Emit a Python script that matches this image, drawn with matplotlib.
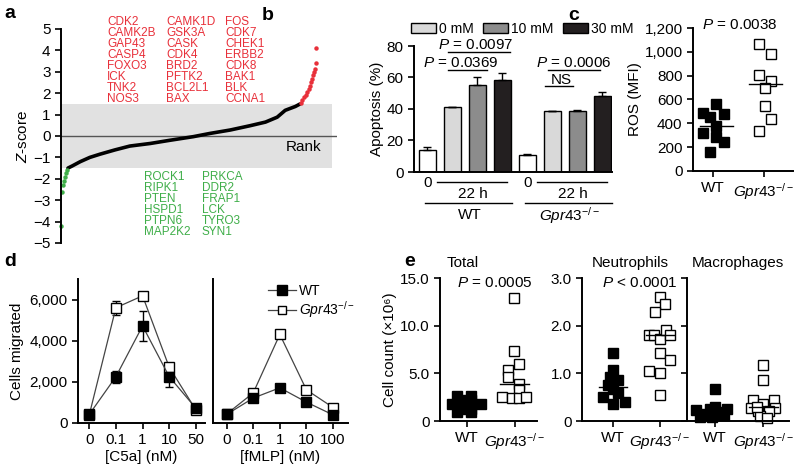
import matplotlib.pyplot as plt
from matplotlib.patches import Patch
from matplotlib.lines import Line2D
import numpy as np

plt.rcParams['font.family'] = ['Liberation Sans', 'DejaVu Sans']
plt.rcParams['mathtext.fontset'] = 'custom'
plt.rcParams['mathtext.rm'] = 'Liberation Sans'
plt.rcParams['mathtext.it'] = 'Liberation Sans:italic'
plt.rcParams['font.size'] = 9
plt.rcParams['axes.linewidth'] = 1.4
plt.rcParams['xtick.major.width'] = 1.2
plt.rcParams['ytick.major.width'] = 1.2
plt.rcParams['xtick.major.size'] = 4
plt.rcParams['ytick.major.size'] = 4

# ---- a: ranked Z-scores
rank_green = [0, 1, 3, 5, 7, 9, 12]
z_green = [-4.2, -2.6, -2.3, -2.1, -1.9, -1.75, -1.6]
rank_black = [13, 21, 36, 54, 73, 101, 129, 167, 204, 248, 279, 317, 354, 383, 405, 420, 439, 448]
z_black = [-1.5, -1.4, -1.2, -1.0, -0.85, -0.65, -0.47, -0.35, -0.2, -0.03, 0.12, 0.28, 0.48, 0.65, 0.88, 1.2, 1.38, 1.5]
rank_red = [449, 452, 455, 458, 461, 464, 466, 468, 470, 472, 473, 475, 477, 478]
z_red = [1.55, 1.68, 1.8, 1.93, 2.06, 2.2, 2.35, 2.5, 2.65, 2.85, 3.0, 3.15, 3.4, 4.1]

red_genes = [['CDK2', 'CAMK2B', 'GAP43', 'CASP4', 'FOXO3', 'ICK', 'TNK2', 'NOS3'],
             ['CAMK1D', 'GSK3A', 'CASK', 'CDK4', 'BRD2', 'PFTK2', 'BCL2L1', 'BAX'],
             ['FOS', 'CDK7', 'CHEK1', 'ERBB2', 'CDK8', 'BAK1', 'BLK', 'CCNA1']]
green_genes = [['ROCK1', 'RIPK1', 'PTEN', 'HSPD1', 'PTPN6', 'MAP2K2'],
               ['PRKCA', 'DDR2', 'FRAP1', 'LCK', 'TYRO3', 'SYN1']]

# ---- b: apoptosis
apop_wt = [14, 41.5, 55.2, 58.2]
apop_wt_err = [1.9, 0, 4.9, 4.4]
apop_ko = [10.6, 38.7, 38.7, 48.5]
apop_ko_err = [0.6, 0, 0.5, 2.5]
conc_labels = ['0 mM', '10 mM', '30 mM']

# ---- c: ROS
ros_wt = [489, 450, 562, 476, 316, 378, 288, 246, 162]
ros_wt_dx = [-0.19, -0.05, 0.07, 0.22, -0.19, 0.07, 0.07, 0.22, -0.06]
ros_ko = [1063, 979, 805, 755, 699, 545, 436, 336]
ros_ko_dx = [-0.1, 0.14, -0.1, 0.14, 0.03, 0.03, 0.14, -0.1]

# ---- d: migration
c5a_ticks = ['0', '0.1', '1', '10', '50']
c5a_wt = [400, 2240, 4715, 2240, 700]
c5a_wt_err = [0, 300, 730, 500, 80]
c5a_ko = [370, 5600, 6180, 2700, 620]
c5a_ko_err = [0, 350, 100, 150, 80]
fmlp_ticks = ['0', '0.1', '1', '10', '100']
fmlp_wt = [400, 1200, 1700, 1000, 380]
fmlp_ko = [420, 1450, 4300, 1600, 740]

# ---- e: peritoneal cell counts
tot_wt = [2.6, 2.6, 1.75, 1.75, 1.75, 1.75, 0.9, 0.9, 2.2, 2.2, 1.3, 1.3, 1.75]
tot_wt_dx = [-0.21, 0.09, -0.32, -0.11, 0.09, 0.29, -0.21, 0.09, -0.11, 0.09, -0.11, 0.09, -0.21]
tot_ko = [12.9, 7.3, 6.0, 5.3, 4.6, 3.9, 3.3, 2.5, 2.4, 2.45, 2.5]
tot_ko_dx = [-0.01, -0.01, 0.09, -0.14, -0.14, 0.09, 0.09, -0.26, -0.05, 0.09, 0.24]
neu_wt = [1.42, 1.07, 0.92, 0.86, 0.75, 0.68, 0.51, 0.58, 0.35, 0.4]
neu_wt_dx = [0, 0, -0.07, 0.11, -0.11, 0, -0.21, 0.11, 0, 0.25]
neu_ko = [2.6, 2.46, 2.29, 1.81, 1.81, 1.72, 1.9, 1.8, 1.42, 1.27, 1.04, 1.0, 0.54]
neu_ko_dx = [0, 0.12, -0.11, -0.23, -0.12, 0, 0.13, 0.21, 0, 0.21, -0.23, 0, 0]
mac_wt = [0.68, 0.23, 0.15, 0.25, 0.3, 0.19, 0.25, 0.08, 0.08, 0.12, 0.15, 0.12]
mac_wt_dx = [0, -0.39, -0.25, -0.11, 0, 0.11, 0.25, -0.32, -0.07, 0.18, 0.04, -0.18]
mac_ko = [1.17, 0.85, 0.45, 0.45, 0.35, 0.28, 0.28, 0.22, 0.22, 0.1, 0.07, 0.3]
mac_ko_dx = [0, 0, -0.21, 0.21, 0, -0.25, 0.25, -0.11, 0.11, -0.07, 0.07, -0.14]

KO = r'$\mathit{Gpr43}^{-/-}$'
W, H = 800, 469
RED = '#e8303a'
GREEN = '#3fae49'


def box(l, t, r, b):
    return [l / W, 1 - b / H, (r - l) / W, (b - t) / H]


def ftext(x, y, s, **kw):
    kw.setdefault('ha', 'center')
    kw.setdefault('va', 'center')
    fig.text(x / W, 1 - y / H, s, **kw)


def clean(ax, left=True, bottom=True):
    for side in ['top', 'right']:
        ax.spines[side].set_visible(False)
    ax.spines['left'].set_visible(left)
    ax.spines['bottom'].set_visible(bottom)


fig = plt.figure(figsize=(8, 4.69), dpi=100)

# panel a
axa = fig.add_axes(box(61, 29, 337, 243))
clean(axa, bottom=False)
axa.fill_between([0, 508], -1.5, 1.5, color='#e1e1e1', lw=0)
axa.axhline(0, color='#555555', lw=1)
axa.plot(rank_black, z_black, color='black', lw=2.6, solid_capstyle='round')
axa.plot(rank_green, z_green, 'o', color=GREEN, ms=2.2, clip_on=False)
axa.plot(rank_red, z_red, 'o', color=RED, ms=2.2, clip_on=False)
axa.set_xlim(0, 517)
axa.set_ylim(-5, 5)
axa.set_yticks(range(-5, 6))
axa.set_yticklabels(['\u2212%d' % -v if v < 0 else str(v) for v in range(-5, 6)], fontsize=11)
axa.set_xticks([])
axa.set_ylabel(r'$\mathit{Z}$-score', fontsize=11, labelpad=2)
axa.text(0.88, 0.45, 'Rank', transform=axa.transAxes, ha='center', va='center', fontsize=11)
for col, x0 in zip(red_genes, [107, 166, 225]):
    for i, g in enumerate(col):
        ftext(x0, 22 + 11 * i, g, ha='left', color=RED, fontsize=8.5)
for col, x0 in zip(green_genes, [144, 202]):
    for i, g in enumerate(col):
        ftext(x0, 177 + 11 * i, g, ha='left', color=GREEN, fontsize=8.5)

# panel b
axb = fig.add_axes(box(414, 46, 612, 172))
clean(axb)
bar_colors = ['white', '#d9d9d9', '#8c8c8c', '#231f20']
vals = apop_wt + apop_ko
errs = apop_wt_err + apop_ko_err
xs = np.arange(len(vals))
axb.bar(xs, vals, width=0.68, color=bar_colors * 2, edgecolor='black', lw=1)
axb.errorbar(xs, vals, yerr=[np.zeros(len(errs)), errs], fmt='none', ecolor='black',
             elinewidth=1, capsize=3, capthick=1)
axb.set_xlim(-0.54, 7.38)
axb.set_ylim(0, 80)
axb.set_yticks([0, 20, 40, 60, 80])
axb.set_xticks([])
axb.tick_params(labelsize=11)
axb.set_ylabel('Apoptosis (%)', fontsize=11, labelpad=2)
kw = dict(color='black', lw=1, clip_on=False)
tk = dict(ha='center', va='center', fontsize=11, clip_on=False)
for g0, lab in [(0, 'WT'), (4, KO)]:
    axb.text(g0, -7, '0', **tk)
    axb.plot([g0 + 0.38, g0 + 3.18], [-6.6, -6.6], **kw)
    axb.text(g0 + 1.8, -13.8, '22 h', **tk)
    axb.plot([g0 - 0.1, g0 + 3.4], [-19.5, -19.5], **kw)
    axb.text(g0 + 1.7, -27.5, lab, **tk)
axb.text(1.94, 80.5, r'$\mathit{P}$ = 0.0097', **tk)
axb.plot([0.82, 3.3], [76, 76], **kw)
axb.text(1.34, 69.5, r'$\mathit{P}$ = 0.0369', **tk)
axb.plot([0.82, 2.4], [64.6, 64.6], **kw)
axb.text(5.85, 69.5, r'$\mathit{P}$ = 0.0006', **tk)
axb.plot([4.82, 6.9], [64.8, 64.8], **kw)
axb.text(5.35, 58.6, 'NS', **tk)
axb.plot([4.72, 5.82], [54.4, 54.4], **kw)
handles = [Patch(facecolor=c, edgecolor='black', lw=1) for c in bar_colors[1:]]
fig.legend(handles, conc_labels, loc='center left', bbox_to_anchor=(411 / W, 1 - 29 / H),
           ncol=3, frameon=False, fontsize=10, handlelength=1.8, handleheight=0.8,
           handletextpad=0.2, columnspacing=0.7, borderaxespad=0, borderpad=0)

# panel c
axc = fig.add_axes(box(693, 28, 793, 171))
clean(axc)
axc.plot(ros_wt_dx, ros_wt, 's', color='black', ms=6.8, mec='black')
axc.plot(1 + np.array(ros_ko_dx), ros_ko, 's', mfc='white', mec='black', ms=6.8, mew=1)
axc.plot([-0.25, 0.4], [np.median(ros_wt)] * 2, color='black', lw=1)
axc.plot([0.7, 1.35], [np.median(ros_ko)] * 2, color='black', lw=1)
axc.set_xlim(-0.39, 1.57)
axc.set_ylim(0, 1200)
axc.set_yticks(range(0, 1201, 200))
axc.set_yticklabels(['0', '200', '400', '600', '800', '1,000', '1,200'])
axc.set_xticks([0, 1])
axc.set_xticklabels(['WT', KO])
axc.tick_params(labelsize=11)
axc.set_ylabel('ROS (MFI)', fontsize=11, labelpad=2)
ftext(740, 25, r'$\mathit{P}$ = 0.0038', fontsize=11)

# panel d
for left, right, ticks, wt, ko, xlab, lims in [
        (78, 205, c5a_ticks, c5a_wt, c5a_ko, '[C5a] (nM)', (-0.42, 4.34)),
        (213, 348, fmlp_ticks, fmlp_wt, fmlp_ko, '[fMLP] (nM)', (-0.51, 4.56))]:
    ax = fig.add_axes(box(left, 279, right, 422.7))
    clean(ax)
    x = np.arange(len(ticks))
    if xlab.startswith('[C5a]'):
        ax.errorbar(x, wt, yerr=c5a_wt_err, fmt='none', ecolor='black', elinewidth=1, capsize=3)
        ax.errorbar(x, ko, yerr=c5a_ko_err, fmt='none', ecolor='black', elinewidth=1, capsize=3)
        ax.set_yticks([0, 2000, 4000, 6000])
        ax.set_yticklabels(['0', '2,000', '4,000', '6,000'])
        ax.set_ylabel('Cells migrated', fontsize=11, labelpad=4)
    else:
        ax.set_yticks([])
    ax.plot(x, ko, '-s', color='#444444', lw=0.9, mfc='white', mec='black', ms=7.5, mew=1,
            label=KO, zorder=3)
    ax.plot(x, wt, '-s', color='#444444', lw=0.9, mfc='black', mec='black', ms=7.5,
            label='WT', zorder=4)
    ax.set_xlim(*lims)
    ax.set_ylim(0, 7000)
    ax.set_xticks(x)
    ax.set_xticklabels(ticks)
    ax.tick_params(labelsize=11)
    ax.set_xlabel(xlab, fontsize=11, labelpad=2)
hd = [Line2D([], [], color='#444444', lw=0.9, marker='s', mfc='black', mec='black', ms=7),
      Line2D([], [], color='#444444', lw=0.9, marker='s', mfc='white', mec='black', ms=6)]
fig.legend(hd, ['WT', KO], loc='upper left', bbox_to_anchor=(268 / W, 1 - 284 / H),
           frameon=False, fontsize=10, handlelength=2.0, handletextpad=0.2,
           labelspacing=0.1, borderaxespad=0, borderpad=0)

# panel e
panels = [
    (440, 537, tot_wt, tot_wt_dx, tot_ko, tot_ko_dx, 15, (-0.57, 1.47), 'Total', 463,
     r'$\mathit{P}$ = 0.0005', 495),
    (582, 685, neu_wt, neu_wt_dx, neu_ko, neu_ko_dx, 3, (-0.67, 1.54), 'Neutrophils', 630,
     r'$\mathit{P}$ < 0.0001', 640),
    (687, 789, mac_wt, mac_wt_dx, mac_ko, mac_ko_dx, 3, (-0.58, 1.53), 'Macrophages', 738,
     None, 0)]
for left, right, wt, wdx, ko, kdx, top, lims, title, tx, ptxt, px in panels:
    ax = fig.add_axes(box(left, 278, right, 421))
    clean(ax)
    ax.plot(wdx, wt, 's', color='black', ms=7, clip_on=False)
    ax.plot(1 + np.array(kdx), ko, 's', mfc='white', mec='black', ms=7, mew=1, clip_on=False)
    ax.plot([-0.3, 0.3], [np.median(wt)] * 2, color='black', lw=1)
    ax.plot([0.7, 1.3], [np.median(ko)] * 2, color='black', lw=1)
    ax.set_xlim(*lims)
    ax.set_ylim(0, top)
    ax.set_xticks([0, 1])
    ax.set_xticklabels(['WT', KO])
    ax.tick_params(labelsize=11)
    step = top / 3
    ax.set_yticks([0, step, 2 * step, top])
    if title == 'Macrophages':
        ax.set_yticklabels([])
    else:
        ax.set_yticklabels(['0'] + ['%.1f' % v for v in [step, 2 * step, top]])
    if title == 'Total':
        ax.set_ylabel('Cell count (\u00d710\u2076)', fontsize=11, labelpad=2)
    ftext(tx, 263, title, fontsize=11)
    if ptxt:
        ftext(px, 283, ptxt, fontsize=11)

for lab, x, y in [('a', 10, 14), ('b', 268, 16), ('c', 574, 16), ('d', 10, 262), ('e', 410, 262)]:
    ftext(x, y, lab, fontsize=14, fontweight='bold')

fig.savefig('out.png', dpi=100)
